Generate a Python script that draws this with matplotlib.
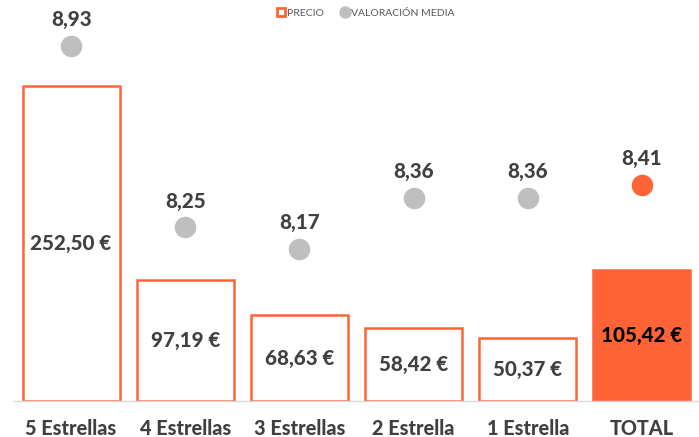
import matplotlib
matplotlib.use("Agg")
import matplotlib.pyplot as plt
from matplotlib.lines import Line2D

categories = ["5 Estrellas", "4 Estrellas", "3 Estrellas", "2 Estrella", "1 Estrella", "TOTAL"]
precio = [252.50, 97.19, 68.63, 58.42, 50.37, 105.42]
valoracion = [8.93, 8.25, 8.17, 8.36, 8.36, 8.41]
precio_labels = ["252,50 €", "97,19 €", "68,63 €", "58,42 €", "50,37 €", "105,42 €"]
val_labels = ["8,93", "8,25", "8,17", "8,36", "8,36", "8,41"]

ORANGE = "#FF6436"
GRAY = "#BFBFBF"
TEXT = "#404040"

plt.rcParams['font.family'] = ['Lato', 'DejaVu Sans']
W = 900

fig = plt.figure(figsize=(6.99, 4.37), dpi=100)
ax = fig.add_axes([14/699, 36/437, 685/699, 374/437])
x = list(range(len(categories)))

for i, (xi, p) in enumerate(zip(x, precio)):
    total = categories[i] == "TOTAL"
    ax.bar(xi, p, width=0.85, facecolor=ORANGE if total else "white",
           edgecolor=ORANGE, linewidth=1.8, zorder=2)
    ax.text(xi, p / 2, precio_labels[i], ha="center", va="center",
            fontsize=14.8, fontweight=W, color="black" if total else TEXT, zorder=4)

ax.set_ylim(0, 300)
ax.set_xlim(-0.5, len(categories) - 0.5)
ax.set_xticks(x)
ax.set_xticklabels(categories, fontsize=14.3, fontweight=W, color=TEXT)
ax.tick_params(axis="x", length=0, pad=13)
ax.set_yticks([])
for s in ["top", "left", "right"]:
    ax.spines[s].set_visible(False)
ax.spines["bottom"].set_color("#D9D9D9")
ax.spines["bottom"].set_linewidth(1)

ax2 = ax.twinx()
ax2.set_ylim(7.6, 9.0)
for i, (xi, v) in enumerate(zip(x, valoracion)):
    c = ORANGE if categories[i] == "TOTAL" else GRAY
    ax2.plot(xi, v, "o", markersize=15.5, color=c, markeredgewidth=0, zorder=3)
    ax2.annotate(val_labels[i], (xi, v), xytext=(0, 12), textcoords="offset points",
                 ha="center", va="bottom", fontsize=14.8, fontweight=W, color=TEXT)
ax2.set_yticks([])
for s in ["top", "left", "right", "bottom"]:
    ax2.spines[s].set_visible(False)

handles = [
    Line2D([], [], marker="s", linestyle="none", markersize=6, markerfacecolor="white",
           markeredgecolor=ORANGE, markeredgewidth=2),
    Line2D([], [], marker="o", linestyle="none", markersize=9, color=GRAY, markeredgewidth=0),
]
fig.legend(handles, ["PRECIO", "VALORACIÓN MEDIA"], loc="center", bbox_to_anchor=(365/699, 1 - 13/437),
           ncol=2, frameon=False, fontsize=7.5, labelcolor="#595959", handletextpad=0.1,
           columnspacing=1.5, handlelength=1.0)

fig.savefig("out.png", dpi=100)
